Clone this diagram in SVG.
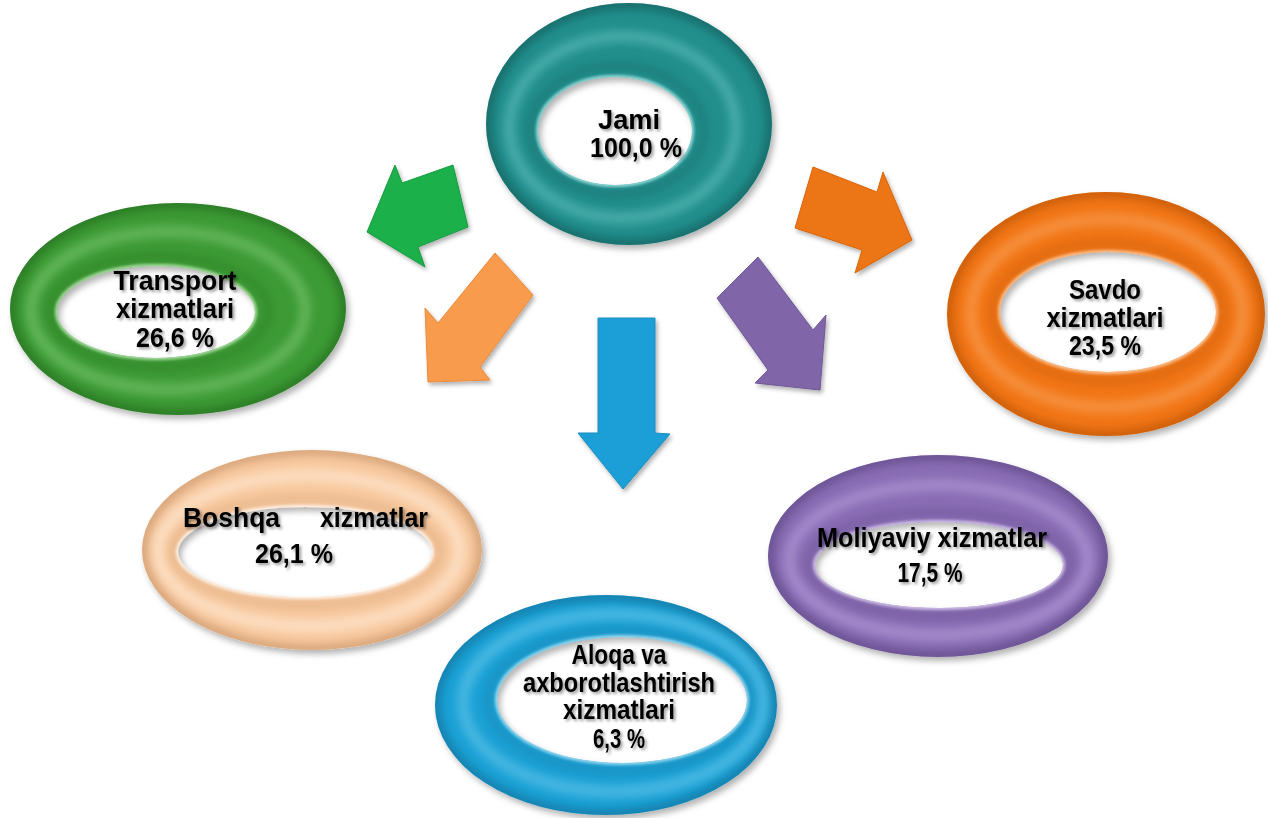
<svg xmlns="http://www.w3.org/2000/svg" width="1268" height="818" viewBox="0 0 1268 818">
<defs>
<style>
.lbl{font-family:"Liberation Sans Narrow","Liberation Sans",Arial,sans-serif;font-weight:bold;font-size:27px;fill:#000;text-anchor:middle;filter:url(#tshadow)}
.b4{filter:url(#blur4)}
.b2{filter:url(#blur2)}
.arrow{stroke-width:1;stroke-linejoin:miter;filter:url(#ashadow)}
</style>
<filter id="tshadow" x="-20%" y="-40%" width="140%" height="180%"><feDropShadow dx="2" dy="2" stdDeviation="1.6" flood-color="#000" flood-opacity="0.4"/></filter>
<filter id="rshadow" x="-10%" y="-10%" width="125%" height="130%"><feDropShadow dx="3" dy="4" stdDeviation="3" flood-color="#000" flood-opacity="0.3"/></filter>
<filter id="ashadow" x="-20%" y="-20%" width="150%" height="150%"><feDropShadow dx="2" dy="3" stdDeviation="2" flood-color="#000" flood-opacity="0.3"/></filter>
<filter id="blur4" x="-20%" y="-20%" width="140%" height="140%"><feGaussianBlur stdDeviation="4"/></filter>
<filter id="blur2" x="-20%" y="-20%" width="140%" height="140%"><feGaussianBlur stdDeviation="1.6"/></filter>
<clipPath id="cJami"><path clip-rule="evenodd" d="M486 124A143 121 0 1 0 772 124A143 121 0 1 0 486 124ZM538 131A77 54 0 1 0 692 131A77 54 0 1 0 538 131Z"/></clipPath>
<clipPath id="cTrans"><path clip-rule="evenodd" d="M10 309A168 106 0 1 0 346 309A168 106 0 1 0 10 309ZM57 312A99 46 0 1 0 255 312A99 46 0 1 0 57 312Z"/></clipPath>
<clipPath id="cSavdo"><path clip-rule="evenodd" d="M947 314A159 122 0 1 0 1265 314A159 122 0 1 0 947 314ZM1000 312A108 60 0 1 0 1216 312A108 60 0 1 0 1000 312Z"/></clipPath>
<clipPath id="cBosh"><path clip-rule="evenodd" d="M142 550A170 100 0 1 0 482 550A170 100 0 1 0 142 550ZM178 552A127 45 0 1 0 432 552A127 45 0 1 0 178 552Z"/></clipPath>
<clipPath id="cMol"><path clip-rule="evenodd" d="M768 556A170 101 0 1 0 1108 556A170 101 0 1 0 768 556ZM815 565A124 43 0 1 0 1063 565A124 43 0 1 0 815 565Z"/></clipPath>
<clipPath id="cAlo"><path clip-rule="evenodd" d="M435 705A171 110 0 1 0 777 705A171 110 0 1 0 435 705ZM497 700A125 63 0 1 0 747 700A125 63 0 1 0 497 700Z"/></clipPath>
</defs>
<rect width="1268" height="818" fill="#fff"/>

<g id="connectors">
<polygon class="arrow" fill="#1fb04c" stroke="#189a40" points="367,232 395,165 402,183 453,165 468,227 418,247 425,267"/>
<polygon class="arrow" fill="#f89b4e" stroke="#e88a3c" points="428,382 425,308 438,323 495,253 533,295 480,367 490,380"/>
<polygon class="arrow" fill="#1e9fd6" stroke="#1a8fc0" points="598,318 655,318 655,433 670,434 623,489 578,433 598,433"/>
<polygon class="arrow" fill="#ec7412" stroke="#d86508" points="813,167 877,192 883,172 912,240 855,273 862,250 795,228"/>
<polygon class="arrow" fill="#8066a8" stroke="#6f5896" points="758,257 813,330 826,315 820,390 755,383 768,370 717,298"/>
</g>

<g id="node-jami">
<path fill-rule="evenodd" fill="#238f8d" filter="url(#rshadow)" d="M486 124A143 121 0 1 0 772 124A143 121 0 1 0 486 124ZM538 131A77 54 0 1 0 692 131A77 54 0 1 0 538 131Z"/>
<g clip-path="url(#cJami)" fill="none">
<ellipse class="b4" cx="629" cy="124" rx="143" ry="121" stroke="#0b4d4c" stroke-width="12" opacity="0.5"/>
<ellipse class="b4" cx="622.7" cy="127.2" rx="113.3" ry="90.9" stroke="#9ff0ee" stroke-width="12" opacity="0.28"/>
<ellipse class="b4" cx="617.1" cy="130" rx="86.9" ry="64.1" stroke="#0b4d4c" stroke-width="8" opacity="0.25"/>
<ellipse class="b2" cx="615" cy="131" rx="77" ry="54" stroke="#c8ffff" stroke-width="4" opacity="0.7"/>
</g>
<text class="lbl"><tspan x="629" y="129" textLength="62" lengthAdjust="spacingAndGlyphs">Jami</tspan><tspan x="636" y="157" textLength="92" lengthAdjust="spacingAndGlyphs">100,0 %</tspan></text>
</g>

<g id="node-transport">
<path fill-rule="evenodd" fill="#3d9b35" filter="url(#rshadow)" d="M10 309A168 106 0 1 0 346 309A168 106 0 1 0 10 309ZM57 312A99 46 0 1 0 255 312A99 46 0 1 0 57 312Z"/>
<g clip-path="url(#cTrans)" fill="none">
<ellipse class="b4" cx="178" cy="309" rx="168" ry="106" stroke="#1d5e18" stroke-width="12" opacity="0.5"/>
<ellipse class="b4" cx="168.1" cy="310.4" rx="137" ry="79" stroke="#bdf5b0" stroke-width="12" opacity="0.28"/>
<ellipse class="b4" cx="159.3" cy="311.6" rx="109.4" ry="55" stroke="#1d5e18" stroke-width="8" opacity="0.25"/>
<ellipse class="b2" cx="156" cy="312" rx="99" ry="46" stroke="#e0ffd8" stroke-width="4" opacity="0.7"/>
</g>
<text class="lbl"><tspan x="175" y="290" textLength="123" lengthAdjust="spacingAndGlyphs">Transport</tspan><tspan x="175" y="318" textLength="118" lengthAdjust="spacingAndGlyphs">xizmatlari</tspan><tspan x="175" y="347" textLength="78" lengthAdjust="spacingAndGlyphs">26,6 %</tspan></text>
</g>

<g id="node-savdo">
<path fill-rule="evenodd" fill="#f27612" filter="url(#rshadow)" d="M947 314A159 122 0 1 0 1265 314A159 122 0 1 0 947 314ZM1000 312A108 60 0 1 0 1216 312A108 60 0 1 0 1000 312Z"/>
<g clip-path="url(#cSavdo)" fill="none">
<ellipse class="b4" cx="1106" cy="314" rx="159" ry="122" stroke="#a84a05" stroke-width="12" opacity="0.5"/>
<ellipse class="b4" cx="1106.9" cy="313.1" rx="136.1" ry="94.1" stroke="#ffd0a0" stroke-width="12" opacity="0.28"/>
<ellipse class="b4" cx="1107.7" cy="312.3" rx="115.7" ry="69.3" stroke="#a84a05" stroke-width="8" opacity="0.25"/>
<ellipse class="b2" cx="1108" cy="312" rx="108" ry="60" stroke="#ffe8d0" stroke-width="4" opacity="0.7"/>
</g>
<text class="lbl"><tspan x="1105" y="299" textLength="72" lengthAdjust="spacingAndGlyphs">Savdo</tspan><tspan x="1105" y="327" textLength="117" lengthAdjust="spacingAndGlyphs">xizmatlari</tspan><tspan x="1105" y="355" textLength="72" lengthAdjust="spacingAndGlyphs">23,5 %</tspan></text>
</g>

<g id="node-boshqa">
<path fill-rule="evenodd" fill="#f9caa0" filter="url(#rshadow)" d="M142 550A170 100 0 1 0 482 550A170 100 0 1 0 142 550ZM178 552A127 45 0 1 0 432 552A127 45 0 1 0 178 552Z"/>
<g clip-path="url(#cBosh)" fill="none">
<ellipse class="b4" cx="312" cy="550" rx="170" ry="100" stroke="#b98358" stroke-width="12" opacity="0.5"/>
<ellipse class="b4" cx="308.9" cy="550.9" rx="150.7" ry="75.3" stroke="#fff4e8" stroke-width="12" opacity="0.45"/>
<ellipse class="b4" cx="306.1" cy="551.7" rx="133.5" ry="53.3" stroke="#b98358" stroke-width="8" opacity="0.25"/>
<ellipse class="b2" cx="305" cy="552" rx="127" ry="45" stroke="#ffffff" stroke-width="4" opacity="0.8"/>
</g>
<text class="lbl"><tspan x="183" y="527" text-anchor="start" textLength="97" lengthAdjust="spacingAndGlyphs">Boshqa</tspan><tspan x="428" y="527" text-anchor="end" textLength="108" lengthAdjust="spacingAndGlyphs">xizmatlar</tspan><tspan x="294" y="563" textLength="78" lengthAdjust="spacingAndGlyphs">26,1 %</tspan></text>
</g>

<g id="node-moliyaviy">
<path fill-rule="evenodd" fill="#8a6db5" filter="url(#rshadow)" d="M768 556A170 101 0 1 0 1108 556A170 101 0 1 0 768 556ZM815 565A124 43 0 1 0 1063 565A124 43 0 1 0 815 565Z"/>
<g clip-path="url(#cMol)" fill="none">
<ellipse class="b4" cx="938" cy="556" rx="170" ry="101" stroke="#4e3a73" stroke-width="12" opacity="0.5"/>
<ellipse class="b4" cx="938.5" cy="560.1" rx="149.3" ry="74.9" stroke="#e2d4ff" stroke-width="12" opacity="0.28"/>
<ellipse class="b4" cx="938.9" cy="563.7" rx="130.9" ry="51.7" stroke="#4e3a73" stroke-width="8" opacity="0.25"/>
<ellipse class="b2" cx="939" cy="565" rx="124" ry="43" stroke="#f2eaff" stroke-width="4" opacity="0.7"/>
</g>
<text class="lbl"><tspan x="932" y="547" textLength="230" lengthAdjust="spacingAndGlyphs">Moliyaviy xizmatlar</tspan><tspan x="930" y="582" textLength="65" lengthAdjust="spacingAndGlyphs">17,5 %</tspan></text>
</g>

<g id="node-aloqa">
<path fill-rule="evenodd" fill="#1fa2d6" filter="url(#rshadow)" d="M435 705A171 110 0 1 0 777 705A171 110 0 1 0 435 705ZM497 700A125 63 0 1 0 747 700A125 63 0 1 0 497 700Z"/>
<g clip-path="url(#cAlo)" fill="none">
<ellipse class="b4" cx="606" cy="705" rx="171" ry="110" stroke="#0b6288" stroke-width="12" opacity="0.5"/>
<ellipse class="b4" cx="613.2" cy="702.8" rx="150.3" ry="88.9" stroke="#b5ecff" stroke-width="12" opacity="0.28"/>
<ellipse class="b4" cx="619.6" cy="700.8" rx="131.9" ry="70.1" stroke="#0b6288" stroke-width="8" opacity="0.25"/>
<ellipse class="b2" cx="622" cy="700" rx="125" ry="63" stroke="#d8f6ff" stroke-width="4" opacity="0.7"/>
</g>
<text class="lbl"><tspan x="619" y="664" textLength="95" lengthAdjust="spacingAndGlyphs">Aloqa va</tspan><tspan x="619" y="692" textLength="192" lengthAdjust="spacingAndGlyphs">axborotlashtirish</tspan><tspan x="619" y="719" textLength="112" lengthAdjust="spacingAndGlyphs">xizmatlari</tspan><tspan x="619" y="748" textLength="52" lengthAdjust="spacingAndGlyphs">6,3 %</tspan></text>
</g>
</svg>
